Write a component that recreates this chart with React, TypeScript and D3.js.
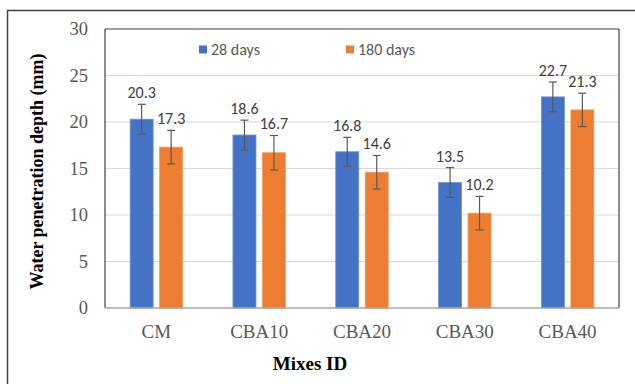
import React from "react";
import * as d3 from "d3";

const categories = ["CM", "CBA10", "CBA20", "CBA30", "CBA40"];
const seriesNames = ["28 days", "180 days"];
const days28 = [20.3, 18.6, 16.8, 13.5, 22.7];
const days180 = [17.3, 16.7, 14.6, 10.2, 21.3];
const err28 = [1.6, 1.6, 1.55, 1.6, 1.6];
const err180 = [1.8, 1.85, 1.8, 1.8, 1.8];
const yTicks = [0, 5, 10, 15, 20, 25, 30];
const colors = ["#4472C4", "#ED7D31"];

const W = 635;
const H = 384;
const plot = { left: 105, right: 619, top: 29, bottom: 308 };

export default function App() {
  const x = d3
    .scaleBand<string>()
    .domain(categories)
    .range([plot.left, plot.right])
    .paddingInner(0)
    .paddingOuter(0);
  const y = d3.scaleLinear().domain([0, 30]).range([plot.bottom, plot.top]);
  const barW = 23;
  const gap = 6.5;
  const series = [
    { name: seriesNames[0], values: days28, errs: err28, color: colors[0] },
    { name: seriesNames[1], values: days180, errs: err180, color: colors[1] },
  ];
  const barX = (i: number, s: number) => {
    const c = (x(categories[i]) as number) + x.bandwidth() / 2;
    return s === 0 ? c - gap / 2 - barW : c + gap / 2;
  };
  const calibri = "Carlito, Lato, 'Liberation Sans', sans-serif";
  const times = "'Liberation Serif', 'Times New Roman', serif";

  return (
    <svg width={W} height={H} style={{ position: "absolute", left: 0, top: 0, background: "#fff" }}>
      <rect x={0} y={0} width={W} height={H} fill="#fff" />
      {/* chart frame */}
      <path d={`M7.5,${H + 2} V10.5 H${W + 2}`} fill="none" stroke="#404040" strokeWidth={1.5} />

      {/* gridlines */}
      {yTicks.filter((t) => t > 0 && t < 30).map((t) => (
        <line key={t} x1={plot.left} x2={plot.right} y1={y(t)} y2={y(t)} stroke="#d9d9d9" strokeWidth={1} />
      ))}

      {/* bars */}
      {series.map((s, si) =>
        s.values.map((v, i) => (
          <rect
            key={`${si}-${i}`}
            x={barX(i, si)}
            y={y(v)}
            width={barW}
            height={y(0) - y(v)}
            fill={s.color}
            stroke={si === 0 ? "#6f93d6" : "#f29a5e"}
            strokeWidth={0.8}
          />
        ))
      )}

      {/* error bars */}
      {series.map((s, si) =>
        s.values.map((v, i) => {
          const cx = barX(i, si) + barW / 2;
          const t = y(v + s.errs[i]);
          const b = y(v - s.errs[i]);
          return (
            <g key={`e${si}-${i}`} stroke="#595959" strokeWidth={1.2}>
              <line x1={cx} x2={cx} y1={t} y2={b} />
              <line x1={cx - 4} x2={cx + 4} y1={t} y2={t} />
              <line x1={cx - 4} x2={cx + 4} y1={b} y2={b} />
            </g>
          );
        })
      )}

      {/* value labels */}
      {series.map((s, si) =>
        s.values.map((v, i) => (
          <text
            key={`l${si}-${i}`}
            x={barX(i, si) + barW / 2}
            y={y(v + s.errs[i]) - 6}
            textAnchor="middle"
            fontFamily={calibri}
            fontSize={16}
            fill="#404040"
          >
            {v.toFixed(1)}
          </text>
        ))
      )}

      {/* plot border: top and right */}
      <path d={`M${plot.left},${plot.top} H${plot.right} V${plot.bottom}`} fill="none" stroke="#404040" strokeWidth={1.2} />
      {/* axes */}
      <line x1={plot.left} x2={plot.left} y1={plot.top} y2={plot.bottom} stroke="#404040" strokeWidth={1.2} />
      <line x1={plot.left} x2={plot.right} y1={plot.bottom} y2={plot.bottom} stroke="#a6a6a6" strokeWidth={1.5} />

      {/* y ticks */}
      {yTicks.map((t) => (
        <text
          key={`yt${t}`}
          x={88}
          y={y(t)}
          dy="0.35em"
          textAnchor="end"
          fontFamily={times}
          fontSize={18.5}
          fill="#595959"
        >
          {t}
        </text>
      ))}

      {/* x ticks */}
      {categories.map((c) => (
        <text
          key={c}
          x={(x(c) as number) + x.bandwidth() / 2}
          y={331}
          dy="0.35em"
          textAnchor="middle"
          fontFamily={times}
          fontSize={19}
          fill="#595959"
        >
          {c}
        </text>
      ))}

      {/* axis titles */}
      <text
        transform={`translate(37,171.5) rotate(-90)`}
        textAnchor="middle"
        dy="0.35em"
        fontFamily={times}
        fontWeight="bold"
        fontSize={18}
        fill="#000"
      >
        Water penetration depth (mm)
      </text>
      <text x={310} y={363} dy="0.35em" textAnchor="middle" fontFamily={times} fontWeight="bold" fontSize={19} fill="#000">
        Mixes ID
      </text>

      {/* legend */}
      {series.map((s, si) => {
        const lx = si === 0 ? 199 : 346;
        return (
          <g key={`lg${si}`}>
            <rect x={lx} y={45.5} width={8} height={8} fill={s.color} />
            <text x={lx + 12} y={49.5} dy="0.35em" fontFamily={calibri} fontSize={16} fill="#595959">
              {s.name}
            </text>
          </g>
        );
      })}
    </svg>
  );
}
